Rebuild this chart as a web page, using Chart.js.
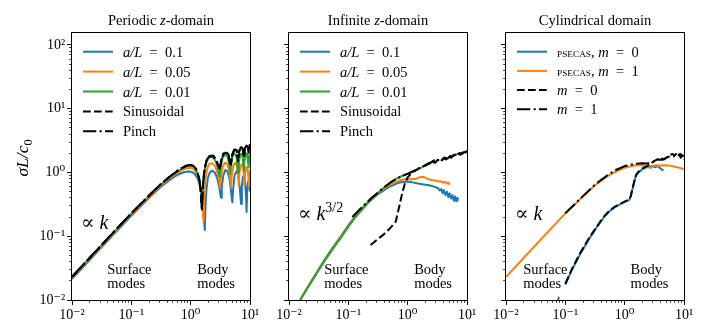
<!DOCTYPE html>
<html>
<head>
<meta charset="utf-8">
<script src="https://cdn.jsdelivr.net/npm/chart.js@4.4.1/dist/chart.umd.min.js"></script>
<style>
  html, body { margin: 0; padding: 0; background: #fff; }
  #wrap { position: relative; width: 709px; height: 320px; overflow: hidden; background: #fff; }
  canvas { position: absolute; top: 0; }
</style>
</head>
<body>
<div id="wrap">
  <canvas id="p1" width="270" height="320" style="left:0px"></canvas>
  <canvas id="p2" width="217" height="320" style="left:270px"></canvas>
  <canvas id="p3" width="222" height="320" style="left:487px"></canvas>
</div>
<script>
const FONT = '"Liberation Serif", "DejaVu Serif", serif';

// axes
const decades = [-2, -1, 0, 1, 2];
const tickLabels = ['10⁻²', '10⁻¹', '10⁰', '10¹', '10²'];
const kMin = 0.01, kMax = 10;
const sMin = 0.01, sMax = 154;

const panelTitles = ['Periodic $z$-domain', 'Infinite $z$-domain', 'Cylindrical domain'];
const slabLabels = ['$a/L$\u2002=\u20020.1', '$a/L$\u2002=\u20020.05', '$a/L$\u2002=\u20020.01', 'Sinusoidal', 'Pinch'];
const cylLabels = ['%{PSECAS}, $m$\u2002=\u20020', '%{PSECAS}, $m$\u2002=\u20021', '$m$\u2002=\u20020', '$m$\u2002=\u20021'];

// periodic z-domain, [k, sigma]
const perA01 = [[0.01,0.0213],[0.02,0.0426],[0.05,0.106],[0.1,0.21],[0.2,0.40],[0.3,0.57],[0.4,0.71],[0.5,0.83],[0.6,0.92],[0.7,0.98],[0.8,1.02],[0.9,1.04],[1.0,1.03],[1.1,0.99],[1.2,0.92],[1.3,0.81],[1.4,0.67],[1.5,0.5],[1.6,0.32],[1.67,0.2],[1.73,0.125],[1.78,0.3],[1.85,0.55],[1.95,0.82],[2.1,1.0],[2.3,1.07],[2.55,1.0],[2.8,0.82],[3.0,0.62],[3.15,0.47],[3.25,0.4],[3.35,0.6],[3.55,0.9],[3.85,1.1],[4.2,1.02],[4.5,0.8],[4.75,0.55],[4.95,0.38],[5.05,0.34],[5.2,0.55],[5.5,0.92],[5.95,1.05],[6.35,0.9],[6.7,0.6],[6.95,0.38],[7.1,0.32],[7.3,0.6],[7.6,0.85],[7.95,0.92],[8.3,0.7],[8.6,0.4],[8.75,0.24],[8.95,0.5],[9.3,0.72],[9.7,0.66],[10,0.5]];
const perA005 = [[0.01,0.0222],[0.02,0.0444],[0.05,0.11],[0.1,0.218],[0.2,0.415],[0.3,0.595],[0.4,0.75],[0.5,0.88],[0.6,0.99],[0.7,1.08],[0.8,1.14],[0.9,1.18],[1.0,1.18],[1.1,1.14],[1.2,1.05],[1.3,0.9],[1.4,0.7],[1.5,0.47],[1.58,0.28],[1.65,0.17],[1.7,0.4],[1.78,0.8],[1.9,1.15],[2.05,1.36],[2.3,1.4],[2.55,1.28],[2.8,1.02],[3.0,0.75],[3.12,0.58],[3.25,0.85],[3.45,1.2],[3.75,1.42],[4.1,1.38],[4.4,1.1],[4.65,0.75],[4.78,0.6],[4.95,0.95],[5.25,1.3],[5.7,1.42],[6.1,1.2],[6.35,0.8],[6.45,0.62],[6.65,1.0],[7.0,1.3],[7.5,1.35],[7.85,1.05],[8.05,0.62],[8.25,0.95],[8.6,1.22],[9.0,1.2],[9.4,0.85],[9.6,0.6],[9.85,0.95],[10,1.1]];
const perA001 = [[0.01,0.023],[0.02,0.046],[0.05,0.114],[0.1,0.225],[0.2,0.43],[0.3,0.62],[0.4,0.78],[0.5,0.92],[0.6,1.04],[0.7,1.14],[0.8,1.22],[0.9,1.27],[1.0,1.28],[1.1,1.24],[1.2,1.15],[1.3,0.98],[1.4,0.75],[1.48,0.5],[1.55,0.3],[1.6,0.55],[1.68,0.95],[1.8,1.35],[2.0,1.68],[2.25,1.78],[2.5,1.65],[2.75,1.35],[2.95,1.05],[3.08,0.85],[3.2,1.2],[3.45,1.7],[3.8,1.92],[4.15,1.8],[4.45,1.4],[4.65,0.95],[4.8,1.3],[5.1,1.8],[5.5,2.0],[5.95,1.75],[6.2,1.1],[6.3,1.0],[6.5,1.5],[6.9,1.95],[7.35,1.95],[7.7,1.4],[7.85,1.05],[8.05,1.5],[8.5,2.0],[8.95,1.95],[9.3,1.4],[9.45,1.2],[9.65,1.65],[10,2.15]];
const perSin = [[0.01,0.023],[0.02,0.046],[0.05,0.115],[0.1,0.228],[0.2,0.435],[0.3,0.63],[0.4,0.79],[0.5,0.93],[0.6,1.06],[0.7,1.16],[0.8,1.24],[0.9,1.29],[1.0,1.3],[1.1,1.27],[1.2,1.18],[1.3,1.0],[1.4,0.77],[1.48,0.5],[1.54,0.27],[1.6,0.6],[1.7,1.1],[1.85,1.55],[2.05,1.78],[2.3,1.82],[2.6,1.62],[2.9,1.3],[3.08,1.1],[3.25,1.5],[3.55,1.95],[3.9,2.05],[4.3,1.85],[4.6,1.4],[4.72,1.25],[4.95,1.8],[5.4,2.25],[5.9,2.2],[6.2,1.7],[6.3,1.5],[6.55,2.1],[7.0,2.45],[7.5,2.35],[7.8,1.85],[7.9,1.7],[8.15,2.3],[8.7,2.6],[9.2,2.45],[9.45,2.05],[9.7,2.5],[10,2.7]];
const perPinch = [[0.01,0.0232],[0.02,0.0464],[0.05,0.116],[0.1,0.23],[0.2,0.44],[0.3,0.635],[0.4,0.8],[0.5,0.94],[0.6,1.07],[0.7,1.17],[0.8,1.25],[0.9,1.3],[1.0,1.31],[1.1,1.28],[1.2,1.19],[1.3,1.01],[1.4,0.78],[1.48,0.52],[1.55,0.25],[1.62,0.65],[1.72,1.15],[1.88,1.6],[2.1,1.82],[2.4,1.85],[2.7,1.6],[2.95,1.3],[3.1,1.15],[3.3,1.6],[3.6,2.0],[3.95,2.1],[4.35,1.9],[4.62,1.45],[4.75,1.3],[5.0,1.9],[5.45,2.3],[5.95,2.25],[6.22,1.75],[6.32,1.6],[6.6,2.2],[7.05,2.5],[7.55,2.4],[7.82,1.95],[7.92,1.8],[8.2,2.4],[8.75,2.65],[9.25,2.5],[9.47,2.15],[9.75,2.6],[10,2.8]];

// infinite z-domain
const infA01 = [[0.0155,0.01],[0.02,0.0148],[0.03,0.027],[0.04,0.041],[0.055,0.063],[0.075,0.094],[0.1,0.14],[0.13,0.195],[0.17,0.26],[0.22,0.34],[0.3,0.44],[0.4,0.53],[0.5,0.6],[0.65,0.67],[0.8,0.71],[1.0,0.72],[1.2,0.7],[1.5,0.67],[1.85,0.65],[2.3,0.63],[2.8,0.6],[3.2,0.57],[3.5,0.52],[3.7,0.55],[3.9,0.47],[4.1,0.53],[4.35,0.44],[4.6,0.5],[4.85,0.41],[5.1,0.47],[5.4,0.39],[5.7,0.44],[6.0,0.36],[6.3,0.42],[6.6,0.35],[6.9,0.4],[7.1,0.36]];
const infA005 = [[0.0155,0.01],[0.02,0.015],[0.03,0.0275],[0.04,0.042],[0.055,0.065],[0.075,0.097],[0.1,0.145],[0.13,0.2],[0.17,0.27],[0.22,0.35],[0.3,0.45],[0.4,0.56],[0.5,0.64],[0.65,0.72],[0.8,0.77],[1.0,0.79],[1.2,0.78],[1.4,0.8],[1.65,0.85],[1.9,0.85],[2.15,0.79],[2.5,0.76],[3.0,0.74],[3.4,0.72],[3.7,0.73],[4.0,0.69],[4.3,0.72],[4.6,0.67],[4.85,0.7],[5.05,0.64]];
const infA001 = [[0.0153,0.01],[0.02,0.0152],[0.03,0.028],[0.04,0.043],[0.055,0.067],[0.075,0.1],[0.1,0.148],[0.13,0.205],[0.17,0.275],[0.22,0.355],[0.3,0.46],[0.4,0.58],[0.5,0.68],[0.65,0.8],[0.8,0.88],[1.0,0.96],[1.3,1.06],[1.6,1.16],[2.0,1.28],[2.5,1.4]];
const infSin = [[0.238,0.073],[0.3,0.087],[0.4,0.108],[0.5,0.132],[0.63,0.17],[0.7,0.26],[0.8,0.45],[0.9,0.68],[1.0,0.84],[1.15,0.97],[1.4,1.1],[1.7,1.22],[2.0,1.3],[2.3,1.4],[2.6,1.5],[2.9,1.42],[3.2,1.58],[3.6,1.5],[4.0,1.68],[4.4,1.6],[4.9,1.78],[5.4,1.7],[5.9,1.88],[6.5,1.8],[7.1,1.97],[7.7,1.9],[8.4,2.05],[9.1,1.98],[9.6,2.15],[10,2.1]];
const infPinch = [[0.117,0.2],[0.15,0.255],[0.2,0.33],[0.25,0.405],[0.3,0.465],[0.4,0.585],[0.5,0.685],[0.65,0.8],[0.8,0.88],[1.0,0.95],[1.25,1.05],[1.6,1.18],[2.0,1.3],[2.5,1.45],[2.8,1.55],[3.1,1.48],[3.4,1.62],[3.8,1.55],[4.2,1.72],[4.7,1.65],[5.2,1.82],[5.7,1.75],[6.3,1.92],[6.9,1.85],[7.5,2.02],[8.2,1.95],[8.9,2.1],[9.5,2.05],[10,2.15]];

// cylindrical domain
const cylPsecas0 = [[0.074,0.0092],[0.078,0.0112],[0.09,null],[0.1,0.0175],[0.13,0.03],[0.177,0.052],[0.25,0.09],[0.338,0.137],[0.45,0.2],[0.568,0.25],[0.7,0.29],[0.85,0.32],[1.0,0.345],[1.2,0.37],[1.28,0.44],[1.4,0.62],[1.5,0.8],[1.6,0.93],[1.75,1.02],[2.0,1.13],[2.3,1.2],[2.6,1.24],[2.95,1.25],[3.3,1.21],[3.6,1.26],[3.9,1.18],[4.2,1.12],[4.5,1.06]];
const cylPsecas1 = [[0.01,0.023],[0.02,0.046],[0.05,0.115],[0.1,0.228],[0.2,0.425],[0.316,0.63],[0.5,0.86],[0.69,1.02],[1.0,1.18],[1.5,1.3],[2.0,1.3],[2.3,1.25],[2.55,1.2],[2.75,1.17],[3.0,1.27],[3.4,1.3],[4.0,1.29],[5.0,1.3],[6.0,1.27],[7.0,1.23],[8.0,1.2],[9.0,1.16],[10,1.12]];
const cylM0 = [[0.1,0.018],[0.13,0.031],[0.177,0.054],[0.25,0.093],[0.338,0.141],[0.45,0.205],[0.568,0.258],[0.7,0.295],[0.85,0.325],[1.0,0.35],[1.2,0.38],[1.27,0.43],[1.38,0.6],[1.5,0.84],[1.6,0.96],[1.75,1.05],[2.0,1.16],[2.3,1.24],[2.7,1.35],[3.1,1.5],[3.6,1.62],[4.1,1.68],[4.6,1.6],[5.1,1.72],[5.7,1.88],[6.4,1.95],[7.0,1.85],[7.5,2.0],[8.0,2.05],[8.4,1.9],[8.8,1.7],[9.3,1.85],[9.7,1.75],[10,1.6]];
const cylM1 = [[0.1,0.23],[0.2,0.43],[0.316,0.645],[0.5,0.89],[0.69,1.08],[1.0,1.26],[1.5,1.37],[2.0,1.4],[2.4,1.38],[2.8,1.42],[3.2,1.52],[3.7,1.6],[4.3,1.58],[5.0,1.7],[5.8,1.8],[6.6,1.78],[7.3,1.9],[8.0,1.88],[8.8,1.95],[9.4,1.8],[10,1.85]];

const BLUE = '#1f77b4', ORANGE = '#ff7f0e', GREEN = '#2ca02c', BLACK = '#000000';
const DASHED = [7.7, 3.3];
const DASHDOT = [13.3, 3.3, 2.1, 3.3];

Chart.defaults.font.family = FONT;
Chart.defaults.color = '#000';

// tiny mathtext-like renderer: $..$ italic, ^{..} sup, _{..} sub, %{..} small caps
function parseRich(s) {
  const runs = [];
  let it = false, buf = '', i = 0;
  const flush = () => { if (buf) runs.push({ t: buf, it, m: '' }); buf = ''; };
  while (i < s.length) {
    const c = s[i];
    if (c === '$') { flush(); it = !it; i++; }
    else if ('^_%'.includes(c) && s[i + 1] === '{') {
      flush();
      const j = s.indexOf('}', i);
      runs.push({ t: s.slice(i + 2, j), it: false, m: c });
      i = j + 1;
    } else { buf += c; i++; }
  }
  flush();
  return runs;
}
function runFont(r, size) {
  let sz = size;
  if (r.m === '^' || r.m === '_') sz = size * 0.7;
  if (r.m === '%') sz = size * 0.64;
  return (r.it ? 'italic ' : '') + sz.toFixed(2) + 'px ' + FONT;
}
function drawRich(ctx, s, x, y, size, align) {
  const runs = parseRich(s);
  let w = 0;
  runs.forEach(r => { ctx.font = runFont(r, size); r.w = ctx.measureText(r.t).width; w += r.w; });
  let cx = align === 'center' ? x - w / 2 : x;
  ctx.textAlign = 'left';
  ctx.textBaseline = 'alphabetic';
  runs.forEach(r => {
    ctx.font = runFont(r, size);
    const dy = r.m === '^' ? -size * 0.42 : r.m === '_' ? size * 0.22 : 0;
    ctx.fillText(r.t, cx, y + dy);
    cx += r.w;
  });
}

function makeDecor(cfg) {
  return {
    id: 'decor',
    afterDatasetsDraw(chart) {
      const ctx = chart.ctx, a = chart.chartArea;
      const w = a.right - a.left, h = a.bottom - a.top;
      const xs = chart.scales.x, ys = chart.scales.y;
      ctx.save();
      ctx.setLineDash([]);
      ctx.strokeStyle = '#000';
      // minor ticks (shorter than the major ones chart.js draws)
      ctx.lineWidth = 0.8;
      ctx.beginPath();
      xs.ticks.forEach(t => {
        if (t.major) return;
        const p = Math.round(xs.getPixelForValue(t.value) - 0.5) + 0.5;
        ctx.moveTo(p, a.bottom); ctx.lineTo(p, a.bottom + 2.8);
      });
      ys.ticks.forEach(t => {
        if (t.major) return;
        const p = Math.round(ys.getPixelForValue(t.value) - 0.5) + 0.5;
        ctx.moveTo(a.left, p); ctx.lineTo(a.left - 2.8, p);
      });
      ctx.stroke();
      // frame
      ctx.lineWidth = 1;
      ctx.strokeRect(a.left - 0.5, a.top - 0.5, w + 1, h + 1);
      // legend
      const lg = cfg.legend;
      chart.data.datasets.forEach((ds, i) => {
        const y = a.top + lg.y0 + i * lg.dy;
        const x = a.left + lg.x0;
        ctx.strokeStyle = ds.borderColor;
        ctx.lineWidth = ds.borderWidth;
        ctx.lineCap = 'butt';
        ctx.setLineDash(ds.borderDash || []);
        ctx.beginPath(); ctx.moveTo(x, y); ctx.lineTo(x + lg.len, y); ctx.stroke();
        ctx.setLineDash([]);
        ctx.fillStyle = '#000';
        drawRich(ctx, ds.label, x + lg.len + lg.gap, y + 5, lg.size, 'left');
      });
      ctx.fillStyle = '#000';
      // title
      drawRich(ctx, cfg.title, a.left + w / 2, a.top - 8.5, 14.5, 'center');
      // y label
      if (cfg.ylabel) {
        ctx.save();
        ctx.translate(cfg.ylabel.x, cfg.ylabel.y);
        ctx.rotate(-Math.PI / 2);
        drawRich(ctx, cfg.ylabel.text, 0, 6, 17.5, 'center');
        ctx.restore();
      }
      // annotations
      cfg.notes.forEach(n => {
        const x = a.left + n.ax * w;
        const y = a.top + n.ay * h;
        n.text.split('\n').forEach((line, i) => drawRich(ctx, line, x, y + i * 13.5, n.size, 'left'));
      });
      ctx.restore();
    }
  };
}

function isDecade(v) { const l = Math.log10(v); return Math.abs(l - Math.round(l)) < 1e-6; }
function tickValues(min, max) {
  const out = [];
  decades.forEach(d => {
    for (let m = 1; m <= 9; m++) {
      const v = m * Math.pow(10, d);
      if (v >= min * 0.999 && v <= max * 1.001) out.push(v);
    }
  });
  return out;
}
function decadeLabel(v) {
  if (!isDecade(v)) return '';
  const i = decades.indexOf(Math.round(Math.log10(v)));
  return i < 0 ? '' : tickLabels[i];
}
function logScale(isX, min, max, showLabels, size) {
  return {
    type: 'logarithmic',
    position: isX ? 'bottom' : 'left',
    min, max,
    afterBuildTicks: s => { s.ticks = tickValues(min, max).map(v => ({ value: v, major: isDecade(v) })); },
    afterFit: s => { if (isX) s.height = size; else s.width = size; },
    grid: {
      drawOnChartArea: false, drawTicks: true, tickLength: 4.9, tickWidth: 1,
      tickColor: c => (c.tick && c.tick.major) ? '#000' : 'rgba(0,0,0,0)'
    },
    border: { display: false },
    ticks: {
      autoSkip: false, maxRotation: 0, minRotation: 0, padding: 2, color: '#000',
      font: { family: FONT, size: 14 },
      callback: v => showLabels ? decadeLabel(v) : ''
    }
  };
}

function series(label, pts, color, dash, order) {
  return {
    label,
    data: pts.map(p => ({ x: p[0], y: p[1] })),
    borderColor: color, backgroundColor: color,
    borderWidth: 2, borderDash: dash, borderJoinStyle: 'round',
    pointRadius: 0, fill: false, tension: 0, order, clip: 0
  };
}

function makePanel(id, sets, yWidth, padRight, showY, cfg) {
  return new Chart(document.getElementById(id), {
    type: 'line',
    data: { datasets: sets },
    options: {
      responsive: false, devicePixelRatio: 1, animation: false, events: [],
      layout: { padding: { top: 33, right: padRight, bottom: 0, left: 0 } },
      scales: {
        x: logScale(true, kMin, kMax, true, 20),
        y: logScale(false, sMin, sMax, showY, yWidth)
      },
      plugins: { legend: { display: false }, tooltip: { enabled: false } }
    },
    plugins: [makeDecor(cfg)]
  });
}

const legendBox = { x0: 11, y0: 18.7, dy: 19.9, len: 30, gap: 10, size: 14.5 };

makePanel('p1', [
  series(slabLabels[0], perA01, BLUE, [], 5),
  series(slabLabels[1], perA005, ORANGE, [], 4),
  series(slabLabels[2], perA001, GREEN, [], 3),
  series(slabLabels[3], perSin, BLACK, DASHED, 2),
  series(slabLabels[4], perPinch, BLACK, DASHDOT, 1)
], 72, 20, true, {
  title: panelTitles[0],
  ylabel: { text: '$σL/c$_{0}', x: 22, y: 158 },
  legend: legendBox,
  notes: [
    { text: '∝ $k$', ax: 0.05, ay: 0.734, size: 20 },
    { text: 'Surface\nmodes', ax: 0.198, ay: 0.903, size: 14.5 },
    { text: 'Body\nmodes', ax: 0.703, ay: 0.903, size: 14.5 }
  ]
});

makePanel('p2', [
  series(slabLabels[0], infA01, BLUE, [], 5),
  series(slabLabels[1], infA005, ORANGE, [], 4),
  series(slabLabels[2], infA001, GREEN, [], 3),
  series(slabLabels[3], infSin, BLACK, DASHED, 2),
  series(slabLabels[4], infPinch, BLACK, DASHDOT, 1)
], 19, 20, false, {
  title: panelTitles[1],
  legend: legendBox,
  notes: [
    { text: '∝ $k$^{3/2}', ax: 0.05, ay: 0.70, size: 20 },
    { text: 'Surface\nmodes', ax: 0.198, ay: 0.903, size: 14.5 },
    { text: 'Body\nmodes', ax: 0.703, ay: 0.903, size: 14.5 }
  ]
});

makePanel('p3', [
  series(cylLabels[0], cylPsecas0, BLUE, [], 4),
  series(cylLabels[1], cylPsecas1, ORANGE, [], 3),
  series(cylLabels[2], cylM0, BLACK, DASHED, 2),
  series(cylLabels[3], cylM1, BLACK, DASHDOT, 1)
], 19, 25, false, {
  title: panelTitles[2],
  legend: { x0: 11, y0: 18.7, dy: 19.2, len: 30, gap: 10, size: 14.5 },
  notes: [
    { text: '∝ $k$', ax: 0.05, ay: 0.70, size: 20 },
    { text: 'Surface\nmodes', ax: 0.097, ay: 0.903, size: 14.5 },
    { text: 'Body\nmodes', ax: 0.70, ay: 0.903, size: 14.5 }
  ]
});
</script>
</body>
</html>
